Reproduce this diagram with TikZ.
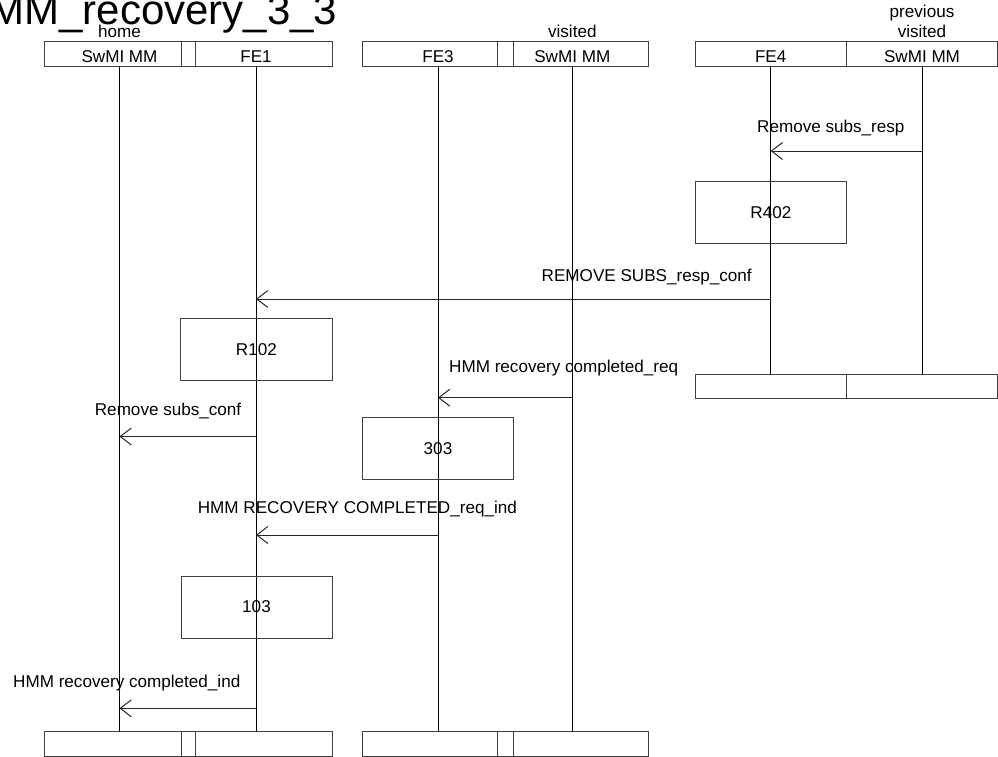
\documentclass[tikz,border=0pt]{standalone}
\usepackage{fontspec}
\setmainfont{Liberation Sans}
\usetikzlibrary{arrows.meta}
\begin{document}
\begin{tikzpicture}[x=1pt,y=-1pt,
  font=\fontsize{17.1}{20}\selectfont,
  frame/.style={draw=black!75, line width=1pt, inner sep=0pt, outer sep=0pt},
  life/.style={draw=black, line width=1pt},
  msg/.style={draw=black!85, line width=1pt, -{Straight Barb[length=11pt,width=17pt]}},
  lbl/.style={inner sep=0pt, anchor=base west},
  captxt/.style={inner sep=0pt, anchor=base}]
\useasboundingbox (0,0) rectangle (998,757);

% title
\node[inner sep=0pt, anchor=base east, font=\fontsize{42}{48}\selectfont] (title) at (337.5,25) {HMM\_recovery\_3\_3};

% header boxes
\node[frame, minimum width=137pt, minimum height=24.6pt] (A1) at (112.5,54) {};
\node[frame, minimum width=14pt, minimum height=24.6pt] (A2) at (188,54) {};
\node[frame, minimum width=137pt, minimum height=24.6pt] (A3) at (263.5,54) {};
\node[frame, minimum width=135pt, minimum height=24.6pt] (B1) at (429.8,54) {};
\node[frame, minimum width=16pt, minimum height=24.6pt] (B2) at (505.3,54) {};
\node[frame, minimum width=135pt, minimum height=24.6pt] (B3) at (580.8,54) {};
\node[frame, minimum width=151.7pt, minimum height=24.6pt] (C1) at (770.85,54) {};
\node[frame, minimum width=150.6pt, minimum height=24.6pt] (C2) at (922,54) {};

\node[captxt] (tA1) at (119.5,63) {SwMI MM};
\node[captxt] (tA3) at (256,63) {FE1};
\node[captxt] (tB1) at (438,63) {FE3};
\node[captxt] (tB3) at (572.3,63) {SwMI MM};
\node[captxt] (tC1) at (770.7,63) {FE4};
\node[captxt] (tC2) at (922,63) {SwMI MM};

\node[captxt] (home) at (119.5,38) {home};
\node[captxt] (vis) at (572.3,38) {visited};
\node[captxt] (prev1) at (922,17.3) {previous};
\node[captxt] (prev2) at (922,37.3) {visited};

% bottom boxes
\node[frame, minimum width=137pt, minimum height=24.3pt] (a1) at (112.5,743.85) {};
\node[frame, minimum width=14pt, minimum height=24.3pt] (a2) at (188,743.85) {};
\node[frame, minimum width=137pt, minimum height=24.3pt] (a3) at (263.5,743.85) {};
\node[frame, minimum width=135pt, minimum height=24.3pt] (b1) at (429.8,743.85) {};
\node[frame, minimum width=16pt, minimum height=24.3pt] (b2) at (505.3,743.85) {};
\node[frame, minimum width=135pt, minimum height=24.3pt] (b3) at (580.8,743.85) {};
\node[frame, minimum width=151.7pt, minimum height=24pt] (c1) at (770.85,386.3) {};
\node[frame, minimum width=150.6pt, minimum height=24pt] (c2) at (922,386.3) {};

% lifelines
\coordinate (L1t) at (119.5,66.3);  \coordinate (L1b) at (119.5,731.7);
\coordinate (L2t) at (256,66.3);    \coordinate (L2b) at (256,731.7);
\coordinate (L3t) at (438,66.3);    \coordinate (L3b) at (438,731.7);
\coordinate (L4t) at (572.3,66.3);  \coordinate (L4b) at (572.3,731.7);
\coordinate (L5t) at (770.7,66.3);  \coordinate (L5b) at (770.7,374.3);
\coordinate (L6t) at (922,66.3);    \coordinate (L6b) at (922,374.3);
\draw[life] (L1t) -- (L1b);
\draw[life] (L2t) -- (L2b);
\draw[life] (L3t) -- (L3b);
\draw[life] (L4t) -- (L4b);
\draw[life] (L5t) -- (L5b);
\draw[life] (L6t) -- (L6b);

% action boxes
\node[frame, minimum width=151.7pt, minimum height=61.6pt] (R402) at (770.85,212.5) {R402};
\node[frame, minimum width=151.3pt, minimum height=62.4pt] (R102) at (256.35,349.5) {R102};
\node[frame, minimum width=150.6pt, minimum height=61.7pt] (S303) at (438,448.15) {303};
\node[frame, minimum width=151pt, minimum height=62pt] (S103) at (256.5,607) {103};

% messages
\coordinate (m1s) at (922,151);     \coordinate (m1e) at (770.7,151);
\coordinate (m2s) at (770.7,299);   \coordinate (m2e) at (256,299);
\coordinate (m3s) at (572.3,397.7); \coordinate (m3e) at (438,397.7);
\coordinate (m4s) at (256,436.5);   \coordinate (m4e) at (119.5,436.5);
\coordinate (m5s) at (438,535);     \coordinate (m5e) at (256,535);
\coordinate (m6s) at (256,708.3);   \coordinate (m6e) at (119.5,708.3);
\draw[msg] (m1s) -- (m1e);
\draw[msg] (m2s) -- (m2e);
\draw[msg] (m3s) -- (m3e);
\draw[msg] (m4s) -- (m4e);
\draw[msg] (m5s) -- (m5e);
\draw[msg] (m6s) -- (m6e);

\node[lbl] (l1) at (757,132.7) {Remove subs\_resp};
\node[lbl] (l2) at (541.5,281) {REMOVE SUBS\_resp\_conf};
\node[lbl] (l3) at (449,372.7) {HMM recovery completed\_req};
\node[lbl] (l4) at (94.7,415.7) {Remove subs\_conf};
\node[lbl] (l5) at (197.7,513.3) {HMM RECOVERY COMPLETED\_req\_ind};
\node[lbl] (l6) at (13,687) {HMM recovery completed\_ind};
\end{tikzpicture}
\end{document}
